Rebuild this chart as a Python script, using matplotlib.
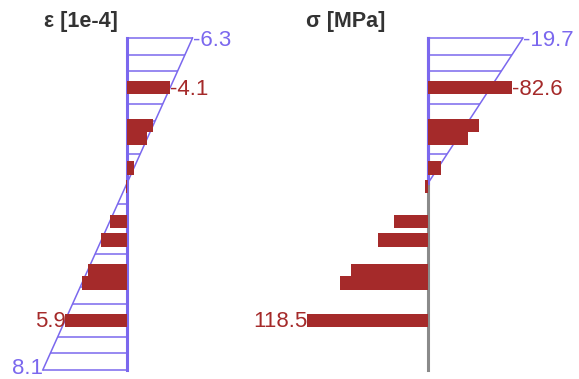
import numpy as np
import matplotlib.pyplot as plt

plt.rcParams['font.family'] = ['Liberation Sans', 'DejaVu Sans']

# section (depth from top fibre, mm)
section_h = 600
na_depth = 262.5
layer_depth = [90, 158, 181, 235, 268, 332, 365, 420, 443, 510]
layer_thk = 24

# strain [1e-4]
strain_top = -6.3
strain_bot = 8.1
steel_strain = [-4.13, -2.51, -1.96, -0.66, 0.13, 1.67, 2.46, 3.78, 4.33, 5.93]

# stress [MPa]
conc_stress_top = -19.7
steel_stress = [-82.6, -50.2, -39.2, -13.2, 2.6, 33.4, 49.2, 75.6, 86.6, 118.5]

hatch_step = 30

BLUE = '#7b68ee'
RED = '#a52a2a'
GREY = '#8a8a8a'

W, HPX = 579, 379
TOP_PX, BOT_PX = 38, 370

fig = plt.figure(figsize=(W / 100, HPX / 100), dpi=100)


def panel(x0, x1, axis_px, scale):
    # axes in pixel layout, x scale in px per unit, compression drawn to the right
    ax = fig.add_axes([x0 / W, 0, (x1 - x0) / W, 1])
    ax.set_xlim((axis_px - x0) / scale, -(x1 - axis_px) / scale)
    mm = section_h / (BOT_PX - TOP_PX)
    ax.set_ylim(section_h + (HPX - BOT_PX) * mm, -TOP_PX * mm)
    ax.axis('off')
    return ax


def label(ax, x, y, v, color, dy=-7):
    ax.annotate(f"{v:.1f}", (x, y), xytext=(0, dy), textcoords='offset pixels',
                ha='left' if v < 0 else 'right', va='baseline',
                fontsize=16, color=color, zorder=5)


# ---- strain ----
ax1 = panel(0, 290, 127, 10.4)
prof_d = [0, section_h]
prof_e = [strain_top, strain_bot]
hd = np.arange(0, section_h + 1, hatch_step)
ax1.hlines(hd, 0, np.interp(hd, prof_d, prof_e), color=BLUE, lw=1.1, zorder=1)
ax1.plot(prof_e, prof_d, color=BLUE, lw=1.1, zorder=1)
ax1.plot([0, 0], prof_d, color=BLUE, lw=2.2, zorder=1)
ax1.barh(layer_depth, steel_strain, height=layer_thk, color=RED, zorder=3)
label(ax1, strain_top, 0, strain_top, BLUE, dy=-8)
label(ax1, strain_bot, section_h, strain_bot, BLUE, dy=-4)
for i in (np.argmin(steel_strain), np.argmax(steel_strain)):
    label(ax1, steel_strain[i], layer_depth[i], steel_strain[i], RED)

# ---- stress: concrete (own scale) ----
ax2c = panel(290, 579, 428, 4.82)
ax2c.plot([0, 0], [0, section_h], color=GREY, lw=2.2, zorder=1)
cd = [0, na_depth]
cs = [conc_stress_top, 0]
hd2 = hd[hd <= na_depth]
ax2c.hlines(hd2, 0, np.interp(hd2, cd, cs), color=BLUE, lw=1.1, zorder=2)
ax2c.plot(cs, cd, color=BLUE, lw=1.1, zorder=2)
ax2c.plot([0, 0], cd, color=BLUE, lw=2.2, zorder=2)
label(ax2c, conc_stress_top, 0, conc_stress_top, BLUE, dy=-8)

# ---- stress: steel ----
ax2 = panel(290, 579, 428, 1.02)
ax2.barh(layer_depth, steel_stress, height=layer_thk, color=RED, zorder=3)
for i in (np.argmin(steel_stress), np.argmax(steel_stress)):
    label(ax2, steel_stress[i], layer_depth[i], steel_stress[i], RED)

fig.text(81 / W, 1 - 22 / HPX, "ε [1e-4]", ha='center', va='center',
         fontsize=15.5, weight='bold', color='#333333')
fig.text(346 / W, 1 - 22 / HPX, "σ [MPa]", ha='center', va='center',
         fontsize=15.5, weight='bold', color='#333333')

fig.savefig('out.png', dpi=100)
